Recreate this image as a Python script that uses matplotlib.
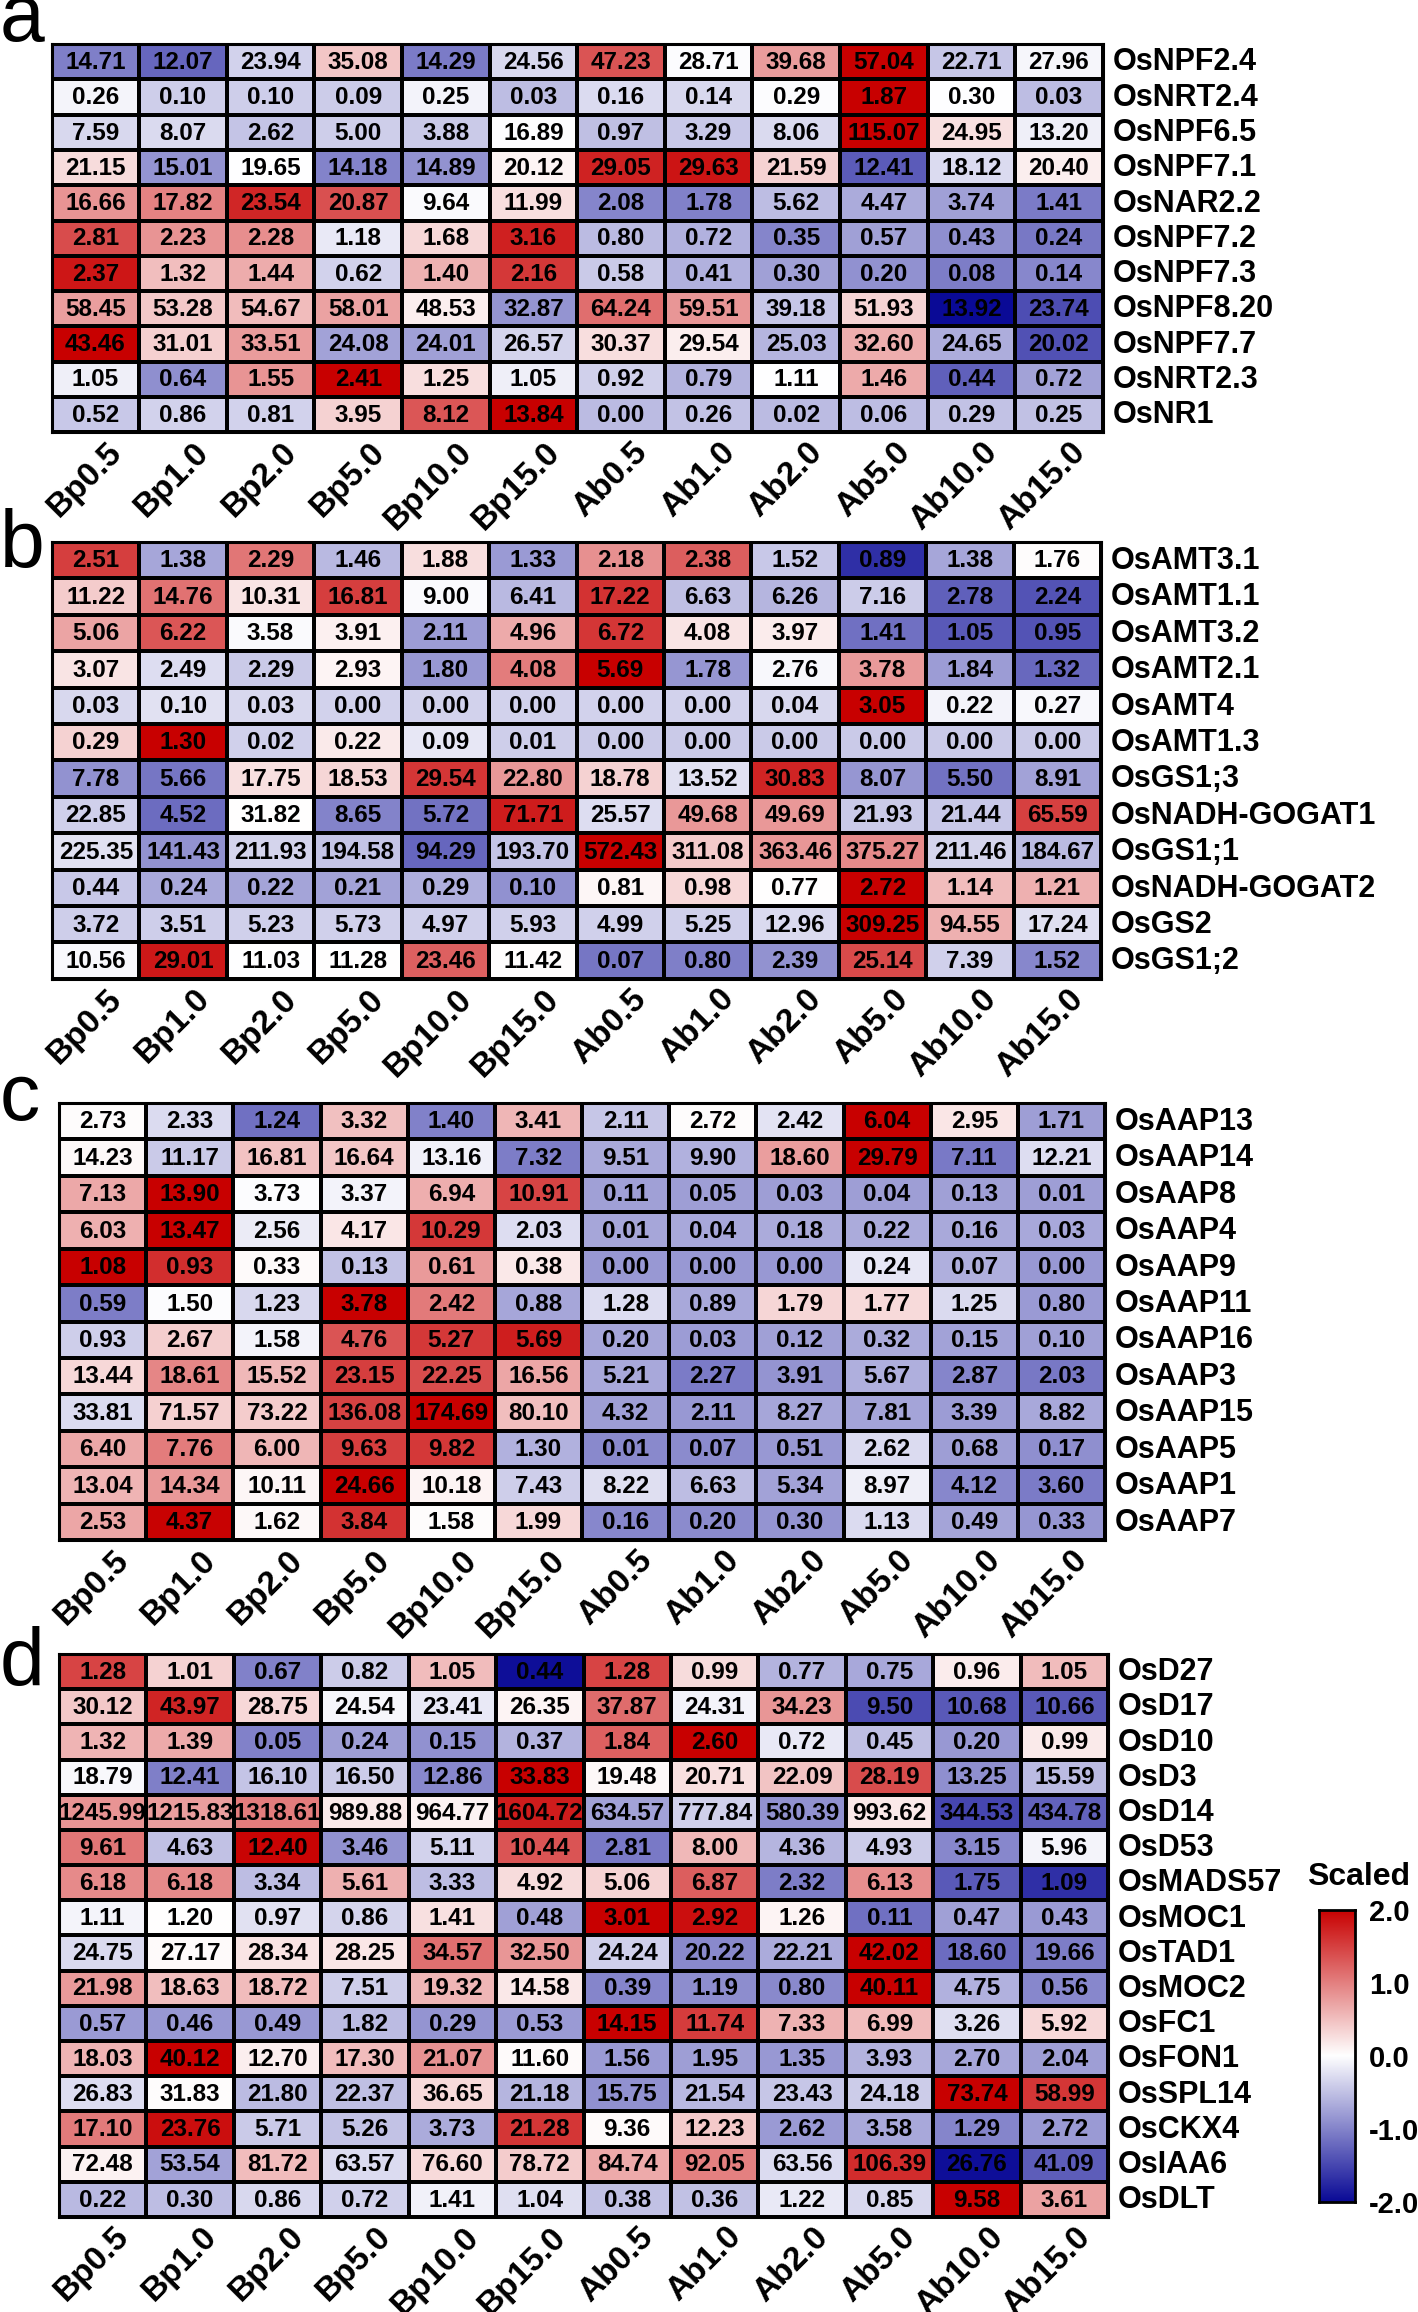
import numpy as np
import matplotlib.pyplot as plt
from matplotlib.colors import LinearSegmentedColormap, Normalize

plt.rcParams['font.family'] = ['Liberation Sans', 'DejaVu Sans']

samples = ['Bp0.5', 'Bp1.0', 'Bp2.0', 'Bp5.0', 'Bp10.0', 'Bp15.0',
           'Ab0.5', 'Ab1.0', 'Ab2.0', 'Ab5.0', 'Ab10.0', 'Ab15.0']

# panel a - nitrate genes
genes_a = ['OsNPF2.4', 'OsNRT2.4', 'OsNPF6.5', 'OsNPF7.1', 'OsNAR2.2', 'OsNPF7.2',
           'OsNPF7.3', 'OsNPF8.20', 'OsNPF7.7', 'OsNRT2.3', 'OsNR1']
vals_a = [
    [14.71, 12.07, 23.94, 35.08, 14.29, 24.56, 47.23, 28.71, 39.68, 57.04, 22.71, 27.96],
    [0.26, 0.10, 0.10, 0.09, 0.25, 0.03, 0.16, 0.14, 0.29, 1.87, 0.30, 0.03],
    [7.59, 8.07, 2.62, 5.00, 3.88, 16.89, 0.97, 3.29, 8.06, 115.07, 24.95, 13.20],
    [21.15, 15.01, 19.65, 14.18, 14.89, 20.12, 29.05, 29.63, 21.59, 12.41, 18.12, 20.40],
    [16.66, 17.82, 23.54, 20.87, 9.64, 11.99, 2.08, 1.78, 5.62, 4.47, 3.74, 1.41],
    [2.81, 2.23, 2.28, 1.18, 1.68, 3.16, 0.80, 0.72, 0.35, 0.57, 0.43, 0.24],
    [2.37, 1.32, 1.44, 0.62, 1.40, 2.16, 0.58, 0.41, 0.30, 0.20, 0.08, 0.14],
    [58.45, 53.28, 54.67, 58.01, 48.53, 32.87, 64.24, 59.51, 39.18, 51.93, 13.92, 23.74],
    [43.46, 31.01, 33.51, 24.08, 24.01, 26.57, 30.37, 29.54, 25.03, 32.60, 24.65, 20.02],
    [1.05, 0.64, 1.55, 2.41, 1.25, 1.05, 0.92, 0.79, 1.11, 1.46, 0.44, 0.72],
    [0.52, 0.86, 0.81, 3.95, 8.12, 13.84, 0.00, 0.26, 0.02, 0.06, 0.29, 0.25],
]

# panel b - ammonium / assimilation genes
genes_b = ['OsAMT3.1', 'OsAMT1.1', 'OsAMT3.2', 'OsAMT2.1', 'OsAMT4', 'OsAMT1.3',
           'OsGS1;3', 'OsNADH-GOGAT1', 'OsGS1;1', 'OsNADH-GOGAT2', 'OsGS2', 'OsGS1;2']
vals_b = [
    [2.51, 1.38, 2.29, 1.46, 1.88, 1.33, 2.18, 2.38, 1.52, 0.89, 1.38, 1.76],
    [11.22, 14.76, 10.31, 16.81, 9.00, 6.41, 17.22, 6.63, 6.26, 7.16, 2.78, 2.24],
    [5.06, 6.22, 3.58, 3.91, 2.11, 4.96, 6.72, 4.08, 3.97, 1.41, 1.05, 0.95],
    [3.07, 2.49, 2.29, 2.93, 1.80, 4.08, 5.69, 1.78, 2.76, 3.78, 1.84, 1.32],
    [0.03, 0.10, 0.03, 0.00, 0.00, 0.00, 0.00, 0.00, 0.04, 3.05, 0.22, 0.27],
    [0.29, 1.30, 0.02, 0.22, 0.09, 0.01, 0.00, 0.00, 0.00, 0.00, 0.00, 0.00],
    [7.78, 5.66, 17.75, 18.53, 29.54, 22.80, 18.78, 13.52, 30.83, 8.07, 5.50, 8.91],
    [22.85, 4.52, 31.82, 8.65, 5.72, 71.71, 25.57, 49.68, 49.69, 21.93, 21.44, 65.59],
    [225.35, 141.43, 211.93, 194.58, 94.29, 193.70, 572.43, 311.08, 363.46, 375.27, 211.46, 184.67],
    [0.44, 0.24, 0.22, 0.21, 0.29, 0.10, 0.81, 0.98, 0.77, 2.72, 1.14, 1.21],
    [3.72, 3.51, 5.23, 5.73, 4.97, 5.93, 4.99, 5.25, 12.96, 309.25, 94.55, 17.24],
    [10.56, 29.01, 11.03, 11.28, 23.46, 11.42, 0.07, 0.80, 2.39, 25.14, 7.39, 1.52],
]

# panel c - amino acid permeases
genes_c = ['OsAAP13', 'OsAAP14', 'OsAAP8', 'OsAAP4', 'OsAAP9', 'OsAAP11',
           'OsAAP16', 'OsAAP3', 'OsAAP15', 'OsAAP5', 'OsAAP1', 'OsAAP7']
vals_c = [
    [2.73, 2.33, 1.24, 3.32, 1.40, 3.41, 2.11, 2.72, 2.42, 6.04, 2.95, 1.71],
    [14.23, 11.17, 16.81, 16.64, 13.16, 7.32, 9.51, 9.90, 18.60, 29.79, 7.11, 12.21],
    [7.13, 13.90, 3.73, 3.37, 6.94, 10.91, 0.11, 0.05, 0.03, 0.04, 0.13, 0.01],
    [6.03, 13.47, 2.56, 4.17, 10.29, 2.03, 0.01, 0.04, 0.18, 0.22, 0.16, 0.03],
    [1.08, 0.93, 0.33, 0.13, 0.61, 0.38, 0.00, 0.00, 0.00, 0.24, 0.07, 0.00],
    [0.59, 1.50, 1.23, 3.78, 2.42, 0.88, 1.28, 0.89, 1.79, 1.77, 1.25, 0.80],
    [0.93, 2.67, 1.58, 4.76, 5.27, 5.69, 0.20, 0.03, 0.12, 0.32, 0.15, 0.10],
    [13.44, 18.61, 15.52, 23.15, 22.25, 16.56, 5.21, 2.27, 3.91, 5.67, 2.87, 2.03],
    [33.81, 71.57, 73.22, 136.08, 174.69, 80.10, 4.32, 2.11, 8.27, 7.81, 3.39, 8.82],
    [6.40, 7.76, 6.00, 9.63, 9.82, 1.30, 0.01, 0.07, 0.51, 2.62, 0.68, 0.17],
    [13.04, 14.34, 10.11, 24.66, 10.18, 7.43, 8.22, 6.63, 5.34, 8.97, 4.12, 3.60],
    [2.53, 4.37, 1.62, 3.84, 1.58, 1.99, 0.16, 0.20, 0.30, 1.13, 0.49, 0.33],
]

# panel d - tillering genes
genes_d = ['OsD27', 'OsD17', 'OsD10', 'OsD3', 'OsD14', 'OsD53', 'OsMADS57', 'OsMOC1',
           'OsTAD1', 'OsMOC2', 'OsFC1', 'OsFON1', 'OsSPL14', 'OsCKX4', 'OsIAA6', 'OsDLT']
vals_d = [
    [1.28, 1.01, 0.67, 0.82, 1.05, 0.44, 1.28, 0.99, 0.77, 0.75, 0.96, 1.05],
    [30.12, 43.97, 28.75, 24.54, 23.41, 26.35, 37.87, 24.31, 34.23, 9.50, 10.68, 10.66],
    [1.32, 1.39, 0.05, 0.24, 0.15, 0.37, 1.84, 2.60, 0.72, 0.45, 0.20, 0.99],
    [18.79, 12.41, 16.10, 16.50, 12.86, 33.83, 19.48, 20.71, 22.09, 28.19, 13.25, 15.59],
    [1245.99, 1215.83, 1318.61, 989.88, 964.77, 1604.72, 634.57, 777.84, 580.39, 993.62, 344.53, 434.78],
    [9.61, 4.63, 12.40, 3.46, 5.11, 10.44, 2.81, 8.00, 4.36, 4.93, 3.15, 5.96],
    [6.18, 6.18, 3.34, 5.61, 3.33, 4.92, 5.06, 6.87, 2.32, 6.13, 1.75, 1.09],
    [1.11, 1.20, 0.97, 0.86, 1.41, 0.48, 3.01, 2.92, 1.26, 0.11, 0.47, 0.43],
    [24.75, 27.17, 28.34, 28.25, 34.57, 32.50, 24.24, 20.22, 22.21, 42.02, 18.60, 19.66],
    [21.98, 18.63, 18.72, 7.51, 19.32, 14.58, 0.39, 1.19, 0.80, 40.11, 4.75, 0.56],
    [0.57, 0.46, 0.49, 1.82, 0.29, 0.53, 14.15, 11.74, 7.33, 6.99, 3.26, 5.92],
    [18.03, 40.12, 12.70, 17.30, 21.07, 11.60, 1.56, 1.95, 1.35, 3.93, 2.70, 2.04],
    [26.83, 31.83, 21.80, 22.37, 36.65, 21.18, 15.75, 21.54, 23.43, 24.18, 73.74, 58.99],
    [17.10, 23.76, 5.71, 5.26, 3.73, 21.28, 9.36, 12.23, 2.62, 3.58, 1.29, 2.72],
    [72.48, 53.54, 81.72, 63.57, 76.60, 78.72, 84.74, 92.05, 63.56, 106.39, 26.76, 41.09],
    [0.22, 0.30, 0.86, 0.72, 1.41, 1.04, 0.38, 0.36, 1.22, 0.85, 9.58, 3.61],
]

cbar_ticks = [2.0, 1.0, 0.0, -1.0, -2.0]

cmap = LinearSegmentedColormap.from_list("bwr_scaled", ['#0A0A96', '#FFFFFF', '#C80000'])
norm = Normalize(vmin=-2, vmax=2)

fig = plt.figure(figsize=(14.18, 23.12), dpi=100)


def draw_panel(rect, genes, vals):
    ax = fig.add_axes(rect)
    data = np.array(vals)
    # row-wise z-score (the "Scaled" values)
    z = (data - data.mean(axis=1, keepdims=True)) / data.std(axis=1, ddof=1, keepdims=True)
    nr, nc = data.shape
    ax.pcolormesh(np.arange(nc + 1), np.arange(nr + 1), z, cmap=cmap, norm=norm,
                  edgecolors='black', linewidth=1.6)
    ax.set_xlim(0, nc)
    ax.set_ylim(nr, 0)
    ax.set_xticks([])
    ax.set_yticks([])
    for s in ax.spines.values():
        s.set_linewidth(2.2)
    for i in range(nr):
        for j in range(nc):
            ax.text(j + 0.5, i + 0.52, f"{data[i, j]:.2f}", ha='center', va='center',
                    fontsize=17.5, fontweight='bold', color='black')
        ax.text(nc + 0.11, i + 0.52, genes[i], ha='left', va='center',
                fontsize=22, fontweight='bold', clip_on=False)
    for j, s in enumerate(samples):
        ax.text(j + 0.62, nr + 0.12, s, rotation=45, ha='right', va='top',
                rotation_mode='anchor', fontsize=24, fontweight='bold', clip_on=False)
    return ax


draw_panel([0.0364, 0.8131, 0.7413, 0.1678], genes_a, vals_a)
draw_panel([0.0367, 0.5766, 0.7398, 0.1890], genes_b, vals_b)
draw_panel([0.0416, 0.3339, 0.7377, 0.1890], genes_c, vals_c)
draw_panel([0.0416, 0.0411, 0.7398, 0.2435], genes_d, vals_d)

# panel letters
for letter, yb in zip(['a', 'b', 'c', 'd'], [0.9823, 0.7548, 0.5156, 0.2712]):
    fig.text(0.0, yb, letter, fontsize=58, va='baseline', ha='left')

# colour key
cax = fig.add_axes([0.9302, 0.0476, 0.0254, 0.1263])
grad = np.linspace(-2, 2, 256).reshape(-1, 1)
cax.imshow(grad, aspect='auto', cmap=cmap, norm=norm, origin='lower', extent=[0, 1, -2, 2])
cax.set_xticks([])
cax.yaxis.tick_right()
cax.set_yticks(cbar_ticks)
cax.set_yticklabels([f"{t:.1f}" for t in cbar_ticks], fontsize=21, fontweight='bold')
cax.tick_params(axis='y', length=0, pad=10)
for s in cax.spines.values():
    s.set_linewidth(2)
fig.text(0.958, 0.1845, 'Scaled', fontsize=23, fontweight='bold', ha='center', va='baseline')

fig.savefig('out.png', dpi=100)
